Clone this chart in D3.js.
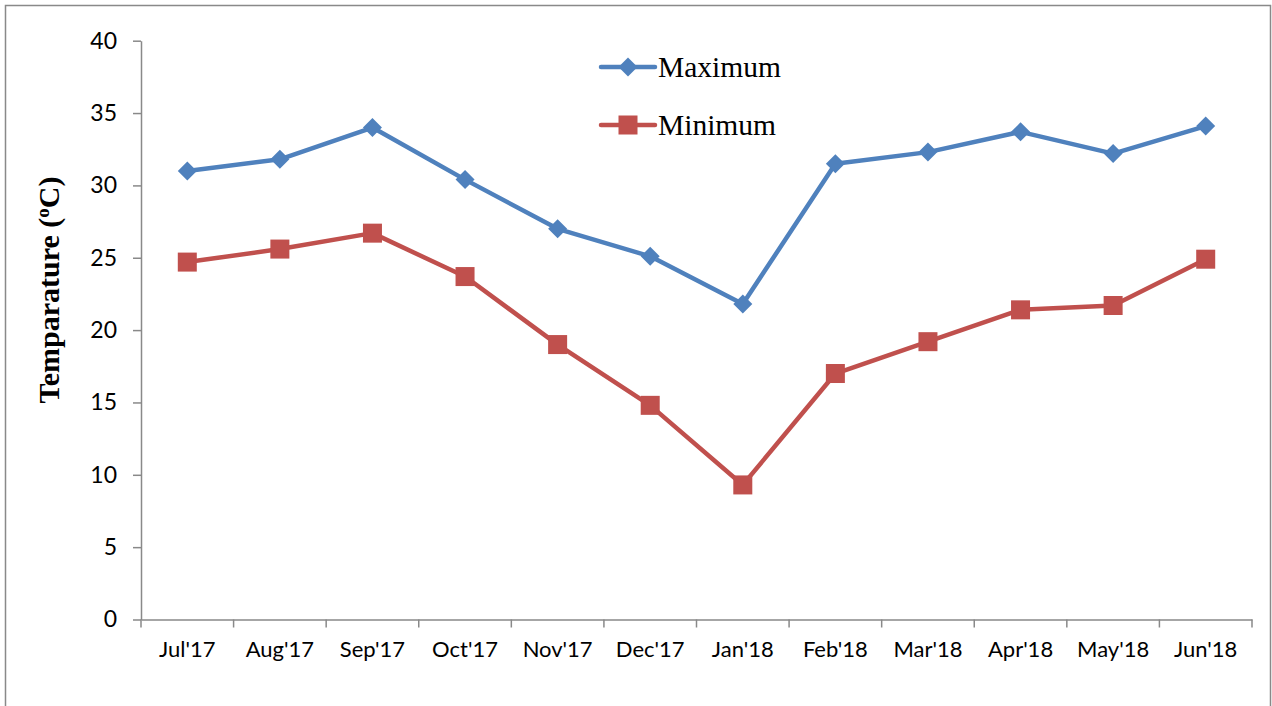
<!DOCTYPE html>
<html><head><meta charset="utf-8">
<script src="https://cdn.jsdelivr.net/npm/d3@7"></script>
<style>html,body{margin:0;padding:0;background:#fff;}svg{display:block;}</style>
</head><body>
<svg id="c" width="1272" height="706"></svg>
<script>
const categories = ["Jul'17","Aug'17","Sep'17","Oct'17","Nov'17","Dec'17","Jan'18","Feb'18","Mar'18","Apr'18","May'18","Jun'18"];
const maximum = [31.0, 31.8, 34.0, 30.4, 27.0, 25.1, 21.8, 31.5, 32.3, 33.7, 32.2, 34.1];
const minimum = [24.7, 25.6, 26.7, 23.7, 19.0, 14.8, 9.3, 17.0, 19.2, 21.4, 21.7, 24.9];
const yTicks = [0,5,10,15,20,25,30,35,40];
const seriesNames = ["Maximum","Minimum"];

const svg = d3.select("#c");
svg.append("rect").attr("x",5.5).attr("y",5.5).attr("width",1265).attr("height",710)
  .attr("fill","none").attr("stroke","#898989").attr("stroke-width",1.5);

const L=141, R=1252, T=40.7, B=619.5;
const x = d3.scaleBand().domain(categories).range([L,R]);
const y = d3.scaleLinear().domain([0,40]).range([B,T]);

const tickFont = "Lato, 'Open Sans', sans-serif";
const yAxis = svg.append("g").attr("transform",`translate(${L},0)`)
  .call(d3.axisLeft(y).tickValues(yTicks).tickSize(8).tickPadding(16).tickSizeOuter(0));
const xAxis = svg.append("g").attr("transform",`translate(0,${B})`)
  .call(d3.axisBottom(x).tickSize(0).tickPadding(22));
const bounds = categories.map(c=>x(c)).concat([R]);
xAxis.selectAll(".bt").data(bounds).enter().append("line")
  .attr("x1",d=>d).attr("x2",d=>d).attr("y1",0).attr("y2",8).attr("stroke","#898989").attr("stroke-width",1.5);
[yAxis,xAxis].forEach(g=>{
  g.attr("font-size",null).attr("font-family",null);
  g.selectAll(".domain").attr("stroke","#898989").attr("stroke-width",1.5);
  g.selectAll(".tick line").attr("stroke","#898989").attr("stroke-width",1.5);
  g.selectAll("text").attr("fill","#000").style("font-family",tickFont).style("font-size","22px");
});
yAxis.selectAll("text").style("font-size","23px");

const colors = {Maximum:"#4F81BD", Minimum:"#C0504D"};
const data = {Maximum:maximum, Minimum:minimum};
const cx = i => x(categories[i]) + x.bandwidth()/2;
const line = d3.line().x((d,i)=>cx(i)).y(d=>y(d));

function marker(g, name, px, py){
  if(name==="Maximum"){
    g.append("path").attr("d",`M${px},${py-9.5}L${px+9.5},${py}L${px},${py+9.5}L${px-9.5},${py}Z`).attr("fill",colors[name]);
  } else {
    g.append("rect").attr("x",px-9.5).attr("y",py-9.5).attr("width",19).attr("height",19).attr("fill",colors[name]);
  }
}

seriesNames.forEach(name=>{
  svg.append("path").datum(data[name]).attr("d",line).attr("fill","none")
    .attr("stroke",colors[name]).attr("stroke-width",4.5).attr("stroke-linejoin","round");
  const g = svg.append("g");
  data[name].forEach((v,i)=>marker(g,name,cx(i),y(v)));
});

const serif = "'Liberation Serif','Times New Roman',serif";
seriesNames.forEach((name,i)=>{
  const ly = 67 + i*58;
  svg.append("line").attr("x1",601).attr("x2",655).attr("y1",ly).attr("y2",ly)
    .attr("stroke",colors[name]).attr("stroke-width",4.5).attr("stroke-linecap","round");
  marker(svg,name,628,ly);
  svg.append("text").attr("x",658).attr("y",ly+10).text(name)
    .style("font-family",serif).style("font-size","29.5px").attr("fill","#000");
});

const title = svg.append("text").attr("transform","translate(59,290) rotate(-90)").attr("text-anchor","middle")
  .style("font-family",serif).style("font-size","30px").style("font-weight","bold");
title.append("tspan").text("Temparature (");
title.append("tspan").attr("dy",-10).style("font-size","19px").text("o");
title.append("tspan").attr("dy",10).text("C)");
</script>
</body></html>
